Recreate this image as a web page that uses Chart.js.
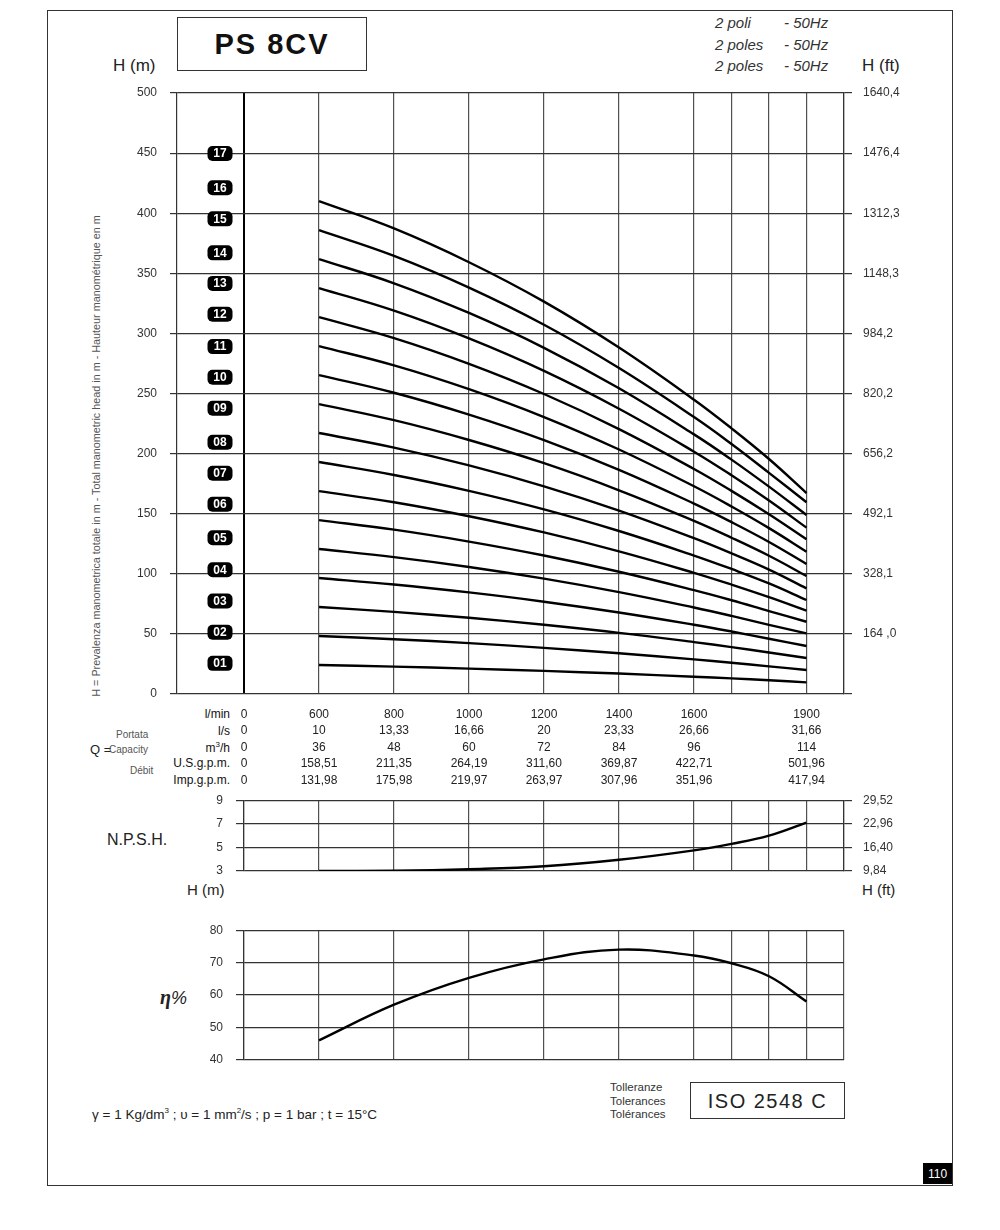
<!DOCTYPE html>
<html><head><meta charset="utf-8">
<script src="https://cdn.jsdelivr.net/npm/chart.js@4"></script>
<style>
body{margin:0;background:#fff;width:1000px;height:1230px;position:relative;font-family:'Liberation Sans',Arial,sans-serif;color:#222;overflow:hidden}
.t{position:absolute;white-space:nowrap;line-height:1;transform:translateY(-50%)}
canvas{position:absolute;left:0}
</style></head><body>
<div style="position:absolute;left:47px;top:10px;width:904px;height:1174px;border:1px solid #333"></div>
<div style="position:absolute;left:177px;top:17px;width:188px;height:52px;border:1px solid #333"></div>
<div class="t" style="left:177px;width:190px;top:44px;text-align:center;font-weight:bold;font-size:29px;letter-spacing:2px;color:#111">PS 8CV</div>
<div class="t" style="left:113px;top:65px;font-size:17px">H (m)</div>
<div class="t" style="left:862px;top:65px;font-size:17px">H (ft)</div>
<div class="t" style="left:715px;top:22px;font-size:15px;font-style:italic;color:#333">2 poli</div>
<div class="t" style="left:715px;top:44px;font-size:15px;font-style:italic;color:#333">2 poles</div>
<div class="t" style="left:715px;top:65px;font-size:15px;font-style:italic;color:#333">2 poles</div>
<div class="t" style="left:784px;top:22px;font-size:15px;font-style:italic;color:#333">- 50Hz</div>
<div class="t" style="left:784px;top:44px;font-size:15px;font-style:italic;color:#333">- 50Hz</div>
<div class="t" style="left:784px;top:65px;font-size:15px;font-style:italic;color:#333">- 50Hz</div>
<div style="position:absolute;left:96px;top:456px;width:0;height:0">
 <div style="position:absolute;transform:translate(-50%,-50%) rotate(-90deg);white-space:nowrap;font-size:10.8px;color:#555;line-height:1">H = Prevalenza manometrica totale in m - Total manometric head in m - Hauteur manométrique en m</div>
</div>
<div class="t" style="left:116px;top:735px;font-size:10px;color:#555">Portata</div>
<div class="t" style="left:90px;top:749px;font-size:13px">Q =</div>
<div class="t" style="left:109px;top:750px;font-size:10px;color:#555">Capacity</div>
<div class="t" style="left:130px;top:771px;font-size:10px;color:#555">Débit</div>
<div class="t" style="left:150px;width:80px;text-align:right;top:714px;font-size:12px;color:#111">l/min</div>
<div class="t" style="left:150px;width:80px;text-align:right;top:731px;font-size:12px;color:#111">l/s</div>
<div class="t" style="left:150px;width:80px;text-align:right;top:747px;font-size:12px;color:#111">m<sup style="font-size:8px">3</sup>/h</div>
<div class="t" style="left:130px;width:100px;text-align:right;top:763px;font-size:12px;color:#111">U.S.g.p.m.</div>
<div class="t" style="left:130px;width:100px;text-align:right;top:780px;font-size:12px;color:#111">Imp.g.p.m.</div>
<div class="t" style="left:107px;top:840px;font-size:16px">N.P.S.H.</div>
<div class="t" style="left:187px;top:889px;font-size:15px">H (m)</div>
<div class="t" style="left:862px;top:889px;font-size:15px">H (ft)</div>
<div class="t" style="left:160px;top:997px;font-size:20px;font-family:'Liberation Serif',serif;font-style:italic;font-weight:bold">η<span style="font-family:'Liberation Sans',sans-serif;font-weight:normal;font-size:18px">%</span></div>
<div class="t" style="left:92px;top:1114px;font-size:13.5px">γ = 1 Kg/dm<sup style="font-size:8px">3</sup> ; υ = 1 mm<sup style="font-size:8px">2</sup>/s ; p = 1 bar ; t = 15°C</div>
<div class="t" style="left:610px;top:1088px;font-size:11.5px;color:#333">Tolleranze</div>
<div class="t" style="left:610px;top:1102px;font-size:11.5px;color:#333">Tolerances</div>
<div class="t" style="left:610px;top:1115px;font-size:11.5px;color:#333">Tolérances</div>
<div style="position:absolute;left:690px;top:1082px;width:153px;height:35px;border:1px solid #333"></div>
<div class="t" style="left:690px;width:155px;text-align:center;top:1101px;font-size:20px;letter-spacing:1.5px">ISO 2548 C</div>
<div style="position:absolute;left:923px;top:1163px;width:29px;height:21px;background:#000"></div>
<div class="t" style="left:923px;width:29px;text-align:center;top:1174px;font-size:12px;color:#fff">110</div>

<canvas id="c1" width="1000" height="800" style="top:0;width:1000px;height:800px"></canvas>
<canvas id="c2" width="1000" height="120" style="top:780px;width:1000px;height:120px"></canvas>
<canvas id="c3" width="1000" height="170" style="top:910px;width:1000px;height:170px"></canvas>

<script>
// ---- data ----
const qFlow = [600, 800, 1000, 1200, 1400, 1600, 1700, 1800, 1900];
const s01 = [24.1, 22.8, 21.1, 19.2, 17.0, 14.4, 13.0, 11.5, 9.7];
const s02 = [48.2, 45.6, 42.3, 38.4, 33.9, 28.8, 26.0, 23.0, 20.0];
const s03 = [72.4, 68.3, 63.4, 57.6, 50.9, 43.2, 39.0, 34.5, 30.0];
const s04 = [96.5, 91.1, 84.5, 76.8, 67.8, 57.6, 52.0, 46.0, 39.9];
const s05 = [120.6, 113.9, 105.7, 96.0, 84.8, 72.0, 65.0, 57.5, 50.5];
const s06 = [144.7, 136.7, 126.8, 115.2, 101.7, 86.4, 78.0, 69.0, 60.1];
const s07 = [168.8, 159.5, 147.9, 134.4, 118.7, 100.8, 91.0, 80.5, 69.3];
const s08 = [193.0, 182.2, 169.0, 153.6, 135.6, 115.2, 104.0, 92.0, 78.2];
const s09 = [217.1, 205.0, 190.2, 172.8, 152.6, 129.6, 117.0, 103.5, 87.9];
const s10 = [241.2, 227.8, 211.3, 192.0, 169.5, 144.0, 130.0, 115.0, 98.2];
const s11 = [265.3, 250.6, 232.4, 211.2, 186.5, 158.4, 143.0, 126.5, 108.2];
const s12 = [289.4, 273.4, 253.6, 230.4, 203.4, 172.8, 156.0, 138.0, 118.4];
const s13 = [313.6, 296.1, 274.7, 249.6, 220.4, 187.2, 169.0, 149.5, 128.7];
const s14 = [337.7, 318.9, 295.8, 268.8, 237.3, 201.6, 182.0, 161.0, 138.4];
const s15 = [361.8, 341.7, 317.0, 288.0, 254.3, 216.0, 195.0, 172.5, 148.9];
const s16 = [385.9, 364.5, 338.1, 307.2, 271.2, 230.4, 208.0, 184.0, 159.5];
const s17 = [410.0, 387.3, 359.2, 326.4, 288.2, 244.8, 221.0, 195.5, 167.2];
const stageNames = ['01','02','03','04','05','06','07','08','09','10','11','12','13','14','15','16','17'];
const stageLabelH = [25.5, 51.4, 77.4, 103.4, 130, 157.8, 183.6, 209.4, 237.7, 263.5, 289, 315.9, 341.6, 367, 395.3, 421.1, 449.7];

const npshQ = [600, 800, 1000, 1200, 1400, 1600, 1700, 1800, 1900];
const npshH = [3.0, 3.02, 3.15, 3.4, 3.95, 4.75, 5.3, 6.0, 7.1];
const effQ = [600, 800, 1000, 1200, 1400, 1600, 1700, 1800, 1900];
const effV = [46, 57, 65.3, 71, 74, 72.2, 69.8, 65.8, 58];

// axis tick texts
const labelPos = [400, 600, 800, 1000, 1200, 1400, 1600, 1900]; // 400 = position of Q=0
const qLmin = ['0','600','800','1000','1200','1400','1600','1900'];
const qLs = ['0','10','13,33','16,66','20','23,33','26,66','31,66'];
const qM3h = ['0','36','48','60','72','84','96','114'];
const qUS = ['0','158,51','211,35','264,19','311,60','369,87','422,71','501,96'];
const qImp = ['0','131,98','175,98','219,97','263,97','307,96','351,96','417,94'];
const gridPos = [400, 600, 800, 1000, 1200, 1400, 1600, 1700, 1800, 1900, 2000];
const ftTickM = [50, 100, 150, 200, 250, 300, 350, 400, 450, 500];
const ftTickLabels = ['164 ,0','328,1','492,1','656,2','820,2','984,2','1148,3','1312,3','1476,4','1640,4'];
const npshTickM = [3, 5, 7, 9];
const npshTickFt = ['9,84','16,40','22,96','29,52'];

// ---- charts ----
Chart.defaults.font.family = "'Liberation Sans', Arial, sans-serif";
Chart.defaults.color = '#222';
const GRID = '#505050';
const gridX = {
  color: c => (c.tick && c.tick.value === 400) ? '#000' : GRID,
  lineWidth: c => (c.tick && c.tick.value === 400) ? 2 : 1.2,
  drawTicks: false
};
const setGridTicks = s => { s.ticks = gridPos.map(v => ({ value: v })); };
const lineDs = (xs, ys) => ({
  data: xs.map((q, i) => ({ x: q, y: ys[i] })),
  borderColor: '#000', borderWidth: 2.4, pointRadius: 0, fill: false,
  tension: 0.4
});

const stageLabelPlugin = {
  id: 'stageLabels',
  afterDatasetsDraw(chart) {
    const c = chart.ctx, xs = chart.scales.x, ys = chart.scales.y;
    const x = xs.getPixelForValue(336);
    c.save();
    c.font = "bold 12px 'Liberation Sans', Arial, sans-serif";
    c.textAlign = 'center'; c.textBaseline = 'middle';
    stageNames.forEach((n, i) => {
      const y = ys.getPixelForValue(stageLabelH[i]);
      const w = 25, h = 15;
      c.fillStyle = '#000';
      c.beginPath();
      c.roundRect(x - w / 2, y - h / 2, w, h, 5);
      c.fill();
      c.fillStyle = '#fff';
      c.fillText(n, x, y + 0.5);
    });
    c.restore();
  }
};

const stages = [s01,s02,s03,s04,s05,s06,s07,s08,s09,s10,s11,s12,s13,s14,s15,s16,s17];
new Chart(document.getElementById('c1'), {
  type: 'line',
  data: { datasets: stages.map(s => lineDs(qFlow, s)) },
  options: {
    responsive: false, animation: false,
    layout: { padding: { top: 93, left: 0, right: 0, bottom: 0 } },
    plugins: { legend: { display: false }, tooltip: { enabled: false } },
    scales: {
      x: {
        type: 'linear', min: 221.3, max: 2000,
        afterBuildTicks: setGridTicks,
        afterFit: s => { s.height = 106; },
        grid: gridX, border: { display: false },
        ticks: {
          autoSkip: false, maxRotation: 0, padding: 12, color: '#222',
          font: { size: 12, lineHeight: 1.38 },
          callback: v => { const i = labelPos.indexOf(v); return i < 0 ? '' : [qLmin[i], qLs[i], qM3h[i], qUS[i], qImp[i]]; }
        }
      },
      y: {
        position: 'left', min: 0, max: 500,
        ticks: { stepSize: 50, padding: 13, font: { size: 12 }, color: '#333' },
        afterFit: s => { s.width = 177; },
        grid: { color: '#333', lineWidth: 1.2, tickLength: 7 },
        border: { color: '#333', width: 1.2 }
      },
      yr: {
        position: 'right', min: 0, max: 500,
        afterBuildTicks: s => { s.ticks = [0].concat(ftTickM).map(v => ({ value: v })); },
        ticks: { padding: 11, font: { size: 12 }, color: '#333',
          callback: v => { const i = ftTickM.indexOf(v); return i < 0 ? '' : ftTickLabels[i]; } },
        afterFit: s => { s.width = 156; },
        grid: { drawOnChartArea: false, tickLength: 8, color: '#333', lineWidth: 1.2 },
        border: { color: '#333', width: 1.2 }
      }
    }
  },
  plugins: [stageLabelPlugin]
});

const smallOpts = (ymin, ymax, step, padTop, padBottom, right) => {
  const o = {
    responsive: false, animation: false,
    layout: { padding: { top: padTop, bottom: padBottom, left: 0, right: right ? 0 : 156 } },
    plugins: { legend: { display: false }, tooltip: { enabled: false } },
    scales: {
      x: {
        type: 'linear', min: 400, max: 2000,
        afterBuildTicks: setGridTicks,
        afterFit: s => { s.height = 0; },
        grid: { color: GRID, lineWidth: 1.2, drawTicks: false },
        border: { display: false },
        ticks: { display: false }
      },
      y: {
        position: 'left', min: ymin, max: ymax,
        ticks: { stepSize: step, padding: 13, font: { size: 12 }, color: '#333' },
        afterFit: s => { s.width = 244; },
        grid: { color: '#333', lineWidth: 1.2, tickLength: 8 },
        border: { color: '#333', width: 1.2 }
      }
    }
  };
  if (right) o.scales.yr = right;
  return o;
};

new Chart(document.getElementById('c2'), {
  type: 'line',
  data: { datasets: [lineDs(npshQ, npshH)] },
  options: smallOpts(3, 9, 2, 20, 29, {
    position: 'right', min: 3, max: 9,
    afterBuildTicks: s => { s.ticks = npshTickM.map(v => ({ value: v })); },
    ticks: { padding: 11, font: { size: 12 }, color: '#333',
      callback: v => { const i = npshTickM.indexOf(v); return i < 0 ? '' : npshTickFt[i]; } },
    afterFit: s => { s.width = 156; },
    grid: { drawOnChartArea: false, tickLength: 8, color: '#333', lineWidth: 1.2 },
    border: { color: '#333', width: 1.2 }
  })
});

new Chart(document.getElementById('c3'), {
  type: 'line',
  data: { datasets: [lineDs(effQ, effV)] },
  options: smallOpts(40, 80, 10, 19, 17, null)
});
</script>
</body></html>
